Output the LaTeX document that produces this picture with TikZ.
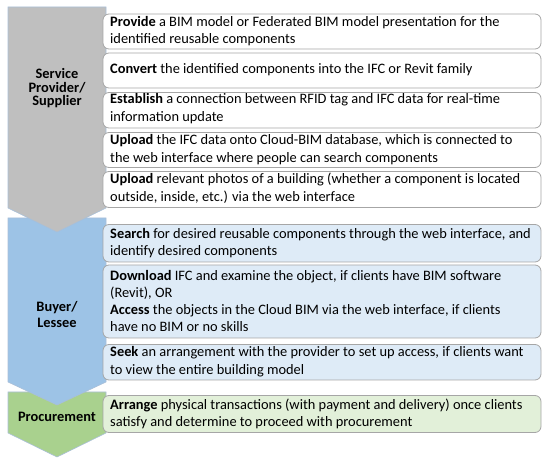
\documentclass[tikz,border=0pt]{standalone}
\usepackage{fontspec}
\setmainfont{Carlito}
\definecolor{chgray}{HTML}{BFBFBF}
\definecolor{chblue}{HTML}{9DC3E6}
\definecolor{chgreen}{HTML}{A9D18E}
\definecolor{chline}{HTML}{A9BFD8}
\definecolor{boxline}{HTML}{A6A6A6}
\definecolor{bluebox}{HTML}{DEEBF7}
\definecolor{greenbox}{HTML}{E2F0D9}
\begin{document}
\begin{tikzpicture}[x=1pt,y=-1pt,
  chev/.style={draw=chline, line width=0.6pt},
  itembox/.style={draw=boxline, line width=0.8pt, rounded corners=6pt},
  itemtext/.style={anchor=base west, inner sep=0pt, align=left,
    font=\fontsize{14.4}{17.5}\selectfont},
  labeltext/.style={anchor=base, inner sep=0pt, align=center,
    font=\fontsize{14.4}{13.5}\selectfont\bfseries}]
\useasboundingbox (0,0) rectangle (550,462);
% chevrons (bottom first)
\draw[chev, fill=chgreen] (8,392) -- (106,392) -- (106,433) -- (57,457) -- (8,433) -- cycle;
\draw[chev, fill=chblue] (8,218) -- (106,218) -- (106,382) -- (57,405) -- (8,382) -- cycle;
\draw[chev, fill=chgray] (8,7) -- (106,7) -- (106,208) -- (57,232) -- (8,208) -- cycle;
% boxes
\draw[itembox, fill=white] (103,14) rectangle (541,49);
\draw[itembox, fill=white] (103,53) rectangle (541,88);
\draw[itembox, fill=white] (103,92.5) rectangle (541,128);
\draw[itembox, fill=white] (103,132.5) rectangle (541,167.5);
\draw[itembox, fill=white] (103,171.5) rectangle (541,207.5);
\draw[itembox, fill=bluebox] (103,224.5) rectangle (541,262);
\draw[itembox, fill=bluebox] (103,265) rectangle (541,338);
\draw[itembox, fill=bluebox] (103,344.5) rectangle (541,380);
\draw[itembox, fill=greenbox] (103,395.5) rectangle (541,432.5);
% labels (base = last line)
\node[labeltext] (lsp) at (57,106) {Service\\Provider/\\Supplier};
\node[labeltext, font=\fontsize{14.4}{15.7}\selectfont\bfseries] (lbl) at (57,327.3) {Buyer/\\Lessee};
\node[labeltext] (lpr) at (57,421.7) {Procurement};
% texts (base = last line)
\node[itemtext, font=\fontsize{14.4}{17}\selectfont] (t1) at (110,44) {\textbf{Provide} a BIM model or Federated BIM model presentation for the\\identified reusable components};
\node[itemtext] (t2) at (110,74) {\textbf{Convert} the identified components into the IFC or Revit family};
\node[itemtext] (t3) at (110,121.5) {\textbf{Establish} a connection between RFID tag and IFC data for real-time\\information update};
\node[itemtext] (t4) at (110,162.5) {\textbf{Upload} the IFC data onto Cloud-BIM database, which is connected to\\the web interface where people can search components};
\node[itemtext] (t5) at (110,201.5) {\textbf{Upload} relevant photos of a building (whether a component is located\\outside, inside, etc.) via the web interface};
\node[itemtext] (t6) at (110,256) {\textbf{Search} for desired reusable components through the web interface, and\\identify desired components};
\node[itemtext, font=\fontsize{14.4}{17.3}\selectfont] (t7) at (110,332) {\textbf{Download} IFC and examine the object, if clients have BIM software\\(Revit), OR\\\textbf{Access} the objects in the Cloud BIM via the web interface, if clients\\have no BIM or no skills};
\node[itemtext] (t8) at (110,374.3) {\textbf{Seek} an arrangement with the provider to set up access, if clients want\\to view the entire building model};
\node[itemtext] (t9) at (110,426.7) {\textbf{Arrange} physical transactions (with payment and delivery) once clients\\satisfy and determine to proceed with procurement};
\end{tikzpicture}
\end{document}
